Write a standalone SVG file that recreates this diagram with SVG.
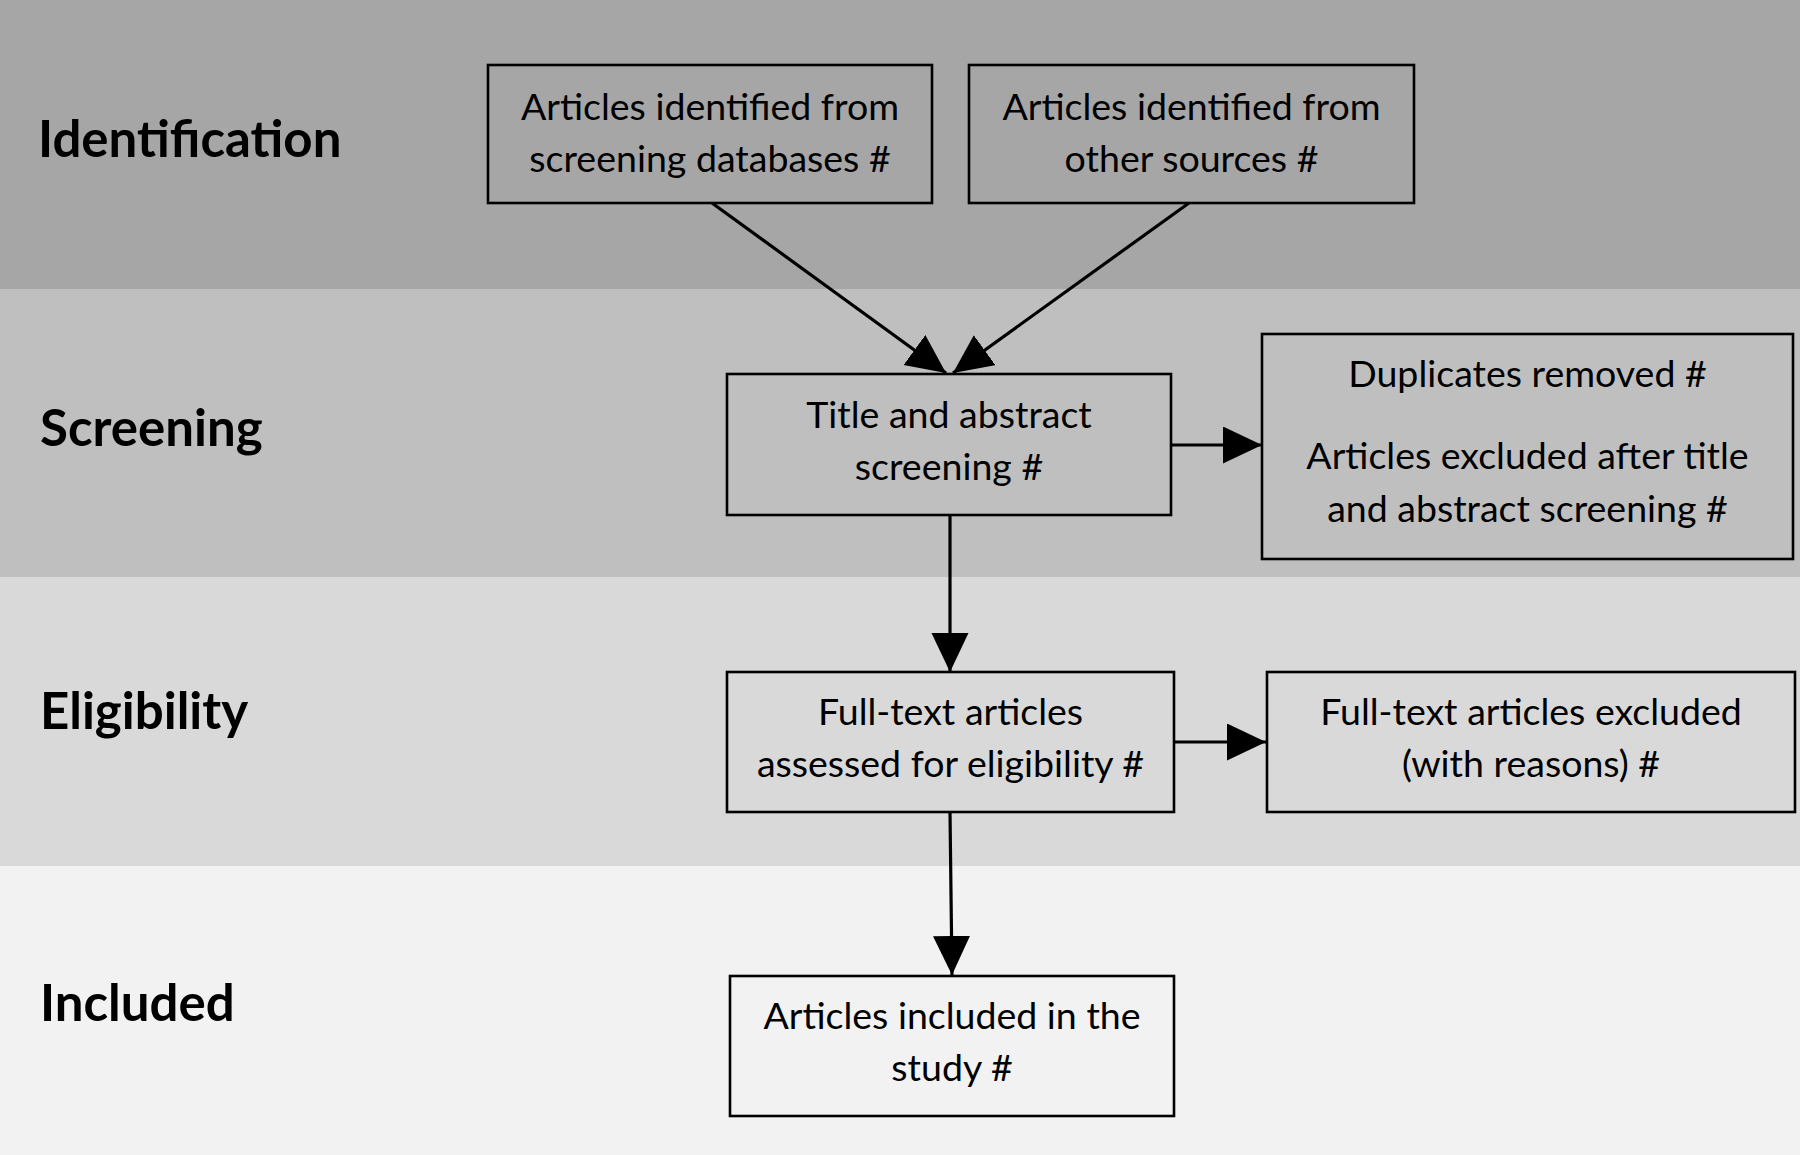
<svg xmlns="http://www.w3.org/2000/svg" width="1800" height="1155" viewBox="0 0 1800 1155">
<defs>
<style>
.lbl{font-family:Lato,"Open Sans","Liberation Sans",sans-serif;font-weight:bold;font-size:51px;fill:#000}
.t{font-family:Lato,"Open Sans","Liberation Sans",sans-serif;font-size:37.5px;fill:#000;text-anchor:middle}
.box{stroke:#000;stroke-width:2.6;fill:none}
.conn{stroke:#000;stroke-width:3.2;fill:none}
</style>
<marker id="ah" markerUnits="userSpaceOnUse" markerWidth="40" markerHeight="38" refX="39" refY="18.5" orient="auto">
<path d="M0,0 L39,18.5 L0,37 Z" fill="#000"/>
</marker>
</defs>
<g id="bands">
<rect x="0" y="0" width="1800" height="289" fill="#a6a6a6"/>
<rect x="0" y="289" width="1800" height="288" fill="#bfbfbf"/>
<rect x="0" y="577" width="1800" height="289" fill="#d9d9d9"/>
<rect x="0" y="866" width="1800" height="289" fill="#f2f2f2"/>
</g>
<g id="stage-labels">
<text class="lbl" x="38" y="157">Identification</text>
<text class="lbl" x="40" y="446">Screening</text>
<text class="lbl" x="40" y="729">Eligibility</text>
<text class="lbl" x="40" y="1021">Included</text>
</g>
<g id="connectors">
<line class="conn" x1="712" y1="203" x2="946" y2="373" marker-end="url(#ah)"/>
<line class="conn" x1="1189" y1="203" x2="953" y2="373" marker-end="url(#ah)"/>
<line class="conn" x1="1171" y1="445" x2="1262" y2="445" marker-end="url(#ah)"/>
<line class="conn" x1="950" y1="515" x2="950" y2="672" marker-end="url(#ah)"/>
<line class="conn" x1="1174" y1="742" x2="1266" y2="742" marker-end="url(#ah)"/>
<line class="conn" x1="950" y1="812" x2="952" y2="975" marker-end="url(#ah)"/>
</g>
<g id="node-databases">
<rect class="box" x="488" y="65" width="444" height="138"/>
<text class="t" x="710" y="120">Articles identified from</text>
<text class="t" x="710" y="172">screening databases #</text>
</g>
<g id="node-other">
<rect class="box" x="969" y="65" width="445" height="138"/>
<text class="t" x="1191.5" y="120">Articles identified from</text>
<text class="t" x="1191.5" y="172">other sources #</text>
</g>
<g id="node-screening">
<rect class="box" x="727" y="374" width="444" height="141"/>
<text class="t" x="949" y="428">Title and abstract</text>
<text class="t" x="949" y="480">screening #</text>
</g>
<g id="node-removed">
<rect class="box" x="1262" y="334" width="531" height="225"/>
<text class="t" x="1527.5" y="387">Duplicates removed #</text>
<text class="t" x="1527.5" y="469">Articles excluded after title</text>
<text class="t" x="1527.5" y="522">and abstract screening #</text>
</g>
<g id="node-fulltext">
<rect class="box" x="727" y="672" width="447" height="140"/>
<text class="t" x="950.5" y="725">Full-text articles</text>
<text class="t" x="950.5" y="777">assessed for eligibility #</text>
</g>
<g id="node-excluded">
<rect class="box" x="1267" y="672" width="528" height="140"/>
<text class="t" x="1531" y="725">Full-text articles excluded</text>
<text class="t" x="1531" y="777">(with reasons) #</text>
</g>
<g id="node-included">
<rect class="box" x="730" y="976" width="444" height="140"/>
<text class="t" x="952" y="1029">Articles included in the</text>
<text class="t" x="952" y="1081">study #</text>
</g>
</svg>
